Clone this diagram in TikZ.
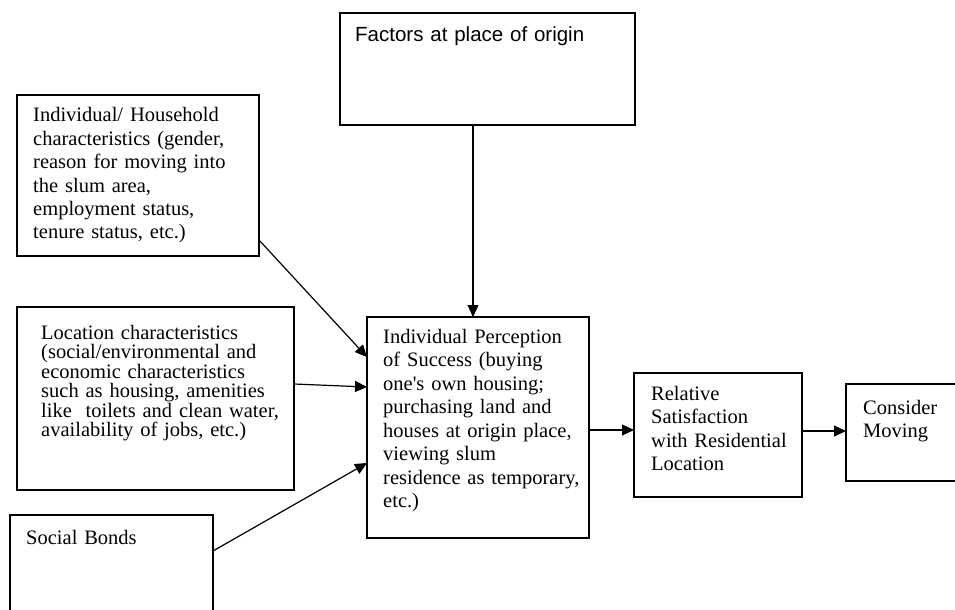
\documentclass[tikz,border=0pt]{standalone}
\usepackage{fontspec}
\setmainfont{Liberation Serif}
\newfontfamily\sansf{Liberation Sans}
\usetikzlibrary{arrows.meta,calc}
\begin{document}
\begin{tikzpicture}[x=1bp,y=-1bp,
  box/.style={draw=black, line width=1.2bp, rectangle, inner sep=0pt, outer sep=0pt, anchor=north west},
  txt/.style={anchor=base west, inner sep=0pt, text width=330bp, align=left,
              font=\fontsize{20.5bp}{23.5bp}\selectfont},
  arr/.style={line width=1.2bp, -{Triangle[length=12bp,width=11bp]}}]
\useasboundingbox (0,0) rectangle (955,610);
% boxes
\node[box, minimum width=295bp, minimum height=112bp] (fac) at (340,13) {};
\node[box, minimum width=242bp, minimum height=161bp] (ind) at (17,95) {};
\node[box, minimum width=277bp, minimum height=183bp] (loc) at (17,307) {};
\node[box, minimum width=203bp, minimum height=100bp] (soc) at (10,515) {};
\node[box, minimum width=222bp, minimum height=221bp] (per) at (367,317) {};
\node[box, minimum width=168bp, minimum height=124bp] (rel) at (634,373) {};
\node[box, minimum width=112bp, minimum height=97bp] (con) at (846,384) {};
% texts
\node[txt, font=\sansf\fontsize{20.5bp}{23.5bp}\selectfont] (facT) at (355,42) {Factors at place of origin};
\node[txt, text width=240bp, font=\fontsize{20.5bp}{23.4bp}\selectfont] (indT) at (33,122) {Individual/ Household\\characteristics (gender,\\reason for moving into\\the slum area,\\employment status,\\tenure status, etc.)};
\node[txt, text width=260bp, font=\fontsize{20.5bp}{19.5bp}\selectfont] (locT) at (41,339) {Location characteristics\\(social/environmental and\\economic characteristics\\such as housing, amenities\\like\ \ toilets and clean water,\\availability of jobs, etc.)};
\node[txt] (socT) at (26,544) {Social Bonds};
\node[txt, text width=220bp] (perT) at (383,343) {Individual Perception\\of Success (buying\\one{\addfontfeature{Ligatures=TeXOff}'}s own housing;\\purchasing land and\\houses at origin place,\\viewing slum\\residence as temporary,\\etc.)};
\node[txt, text width=160bp] (relT) at (651,400) {Relative\\Satisfaction\\with Residential\\Location};
\node[txt, text width=100bp, font=\fontsize{20.5bp}{23bp}\selectfont] (conT) at (863,414) {Consider\\Moving};
% connectors
\draw[arr] ([xshift=-14.5bp]fac.south) -- ([xshift=-14.5bp]fac.south |- per.north);
\draw[arr] ([yshift=16bp]ind.south east) -- ([yshift=-40bp]per.north west);
\draw[arr] ([yshift=14.5bp]loc.east) -- ([yshift=-70bp]per.north west);
\draw[arr] ([yshift=-36bp]soc.north east) -- ([yshift=-146bp]per.north west);
\draw[arr] ([yshift=-2.5bp]per.east) -- ([yshift=-2.5bp]per.east -| rel.west);
\draw[arr] ([yshift=4bp]rel.east) -- ([yshift=4bp]rel.east -| con.west);
\end{tikzpicture}
\end{document}
